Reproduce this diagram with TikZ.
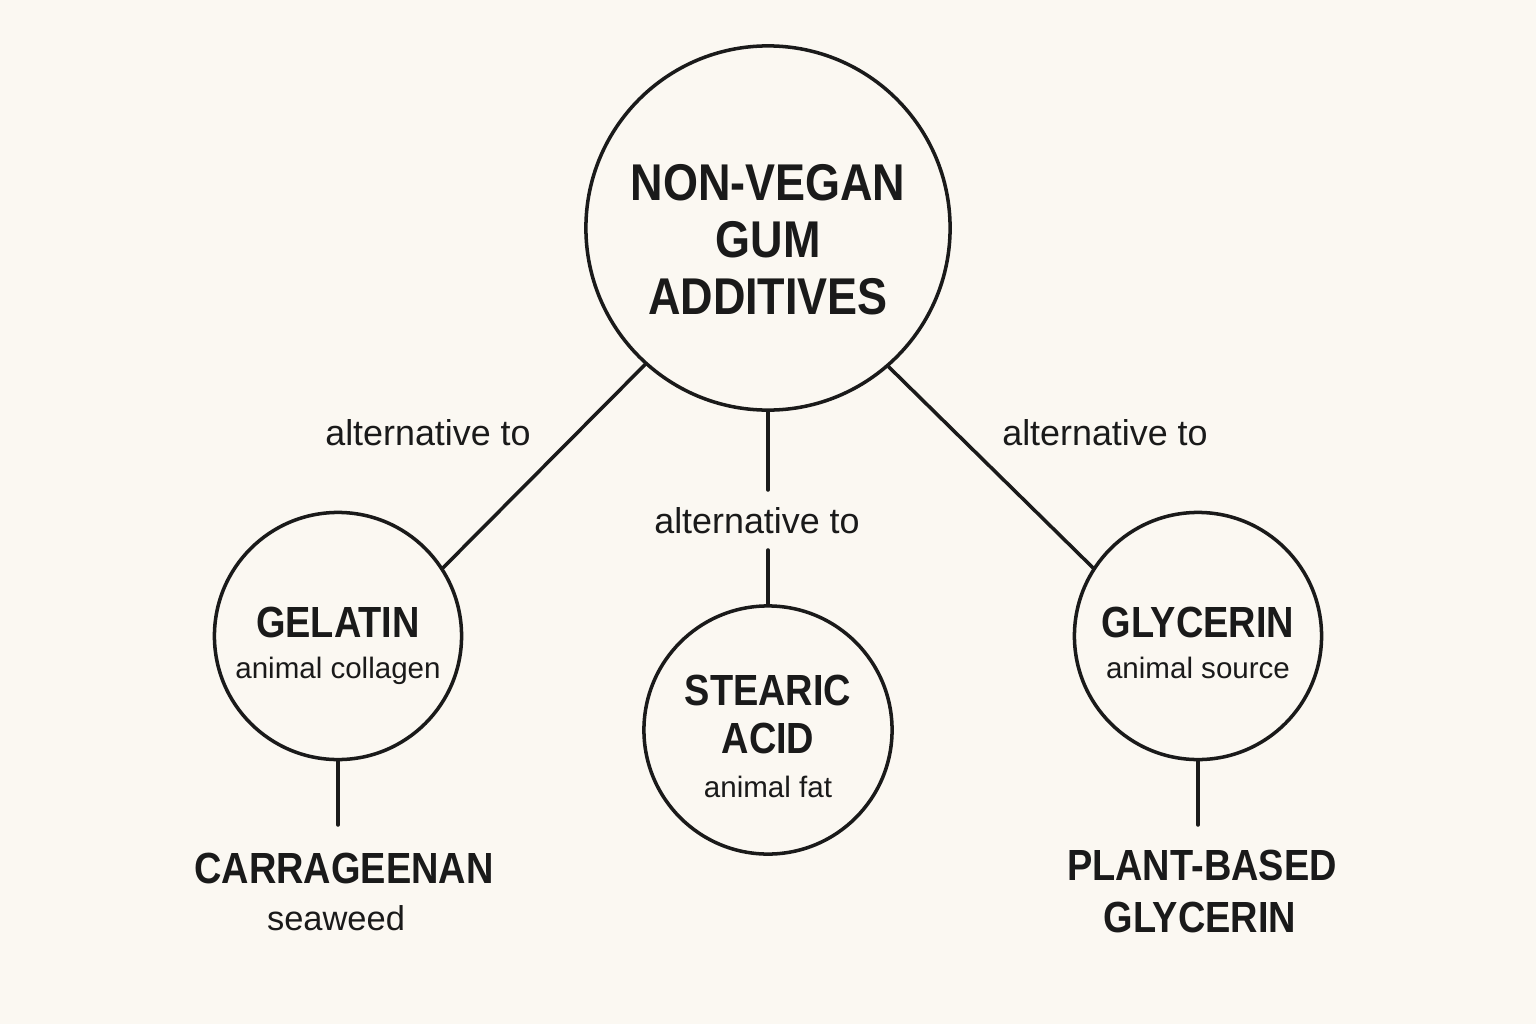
\documentclass[tikz,border=0pt]{standalone}
\usepackage{fontspec}
\setmainfont{Liberation Sans}
\newfontfamily\capsfont{Liberation Sans}[FakeStretch=0.87]
\definecolor{paper}{RGB}{251,248,242}
\definecolor{ink}{RGB}{26,26,26}
\begin{document}
\begin{tikzpicture}[x=0.01cm, y=-0.01cm, line join=round, line cap=round,
    bubble/.style={circle, draw=ink, line width=1pt, inner sep=0pt},
    link/.style={draw=ink, line width=1pt},
    head/.style={anchor=base, inner sep=0pt, text=ink, font=\capsfont\bfseries\fontsize{14.7}{16}\selectfont},
    item/.style={anchor=base, inner sep=0pt, text=ink, font=\capsfont\bfseries\fontsize{12.4}{14}\selectfont},
    sub/.style={anchor=base, inner sep=0pt, text=ink, font=\fontsize{8.4}{10}\selectfont},
    rel/.style={anchor=base, inner sep=0pt, text=ink, font=\fontsize{10.2}{12}\selectfont}]
    \fill[paper] (0,0) rectangle (1536,1024);
    \useasboundingbox (0,0) rectangle (1536,1024);
    % circles
    \node[bubble, minimum size=3.64cm] (top) at (768,228) {};
    \node[bubble, minimum size=2.47cm] (gel) at (338,636) {};
    \node[bubble, minimum size=2.48cm] (ste) at (768,730) {};
    \node[bubble, minimum size=2.47cm] (gly) at (1198,636) {};
    \path
    (768,490) coordinate (midA)
    (768,550) coordinate (midB)
    (338,825) coordinate (gelend)
    (1198,825) coordinate (glyend);
    % texts
    \foreach \n/\x/\y/\txt in {h1/768/200/NON-VEGAN, h2/768/257/GUM, h3/768/314/ADDITIVES}
    \node[head] (\n) at (\x,\y) {\txt};
    \foreach \n/\x/\y/\txt in {gel1/338/637/GELATIN, ste1/768/705/STEARIC, ste2/768/753/ACID, gly1/1198/637/GLYCERIN, carr/344/883/CARRAGEENAN, pb1/1202/880/PLANT-BASED, pb2/1200/932/GLYCERIN}
    \node[item] (\n) at (\x,\y) {\txt};
    \foreach \n/\x/\y/\txt in {gel2/338/678/animal collagen, ste3/768/797/animal fat, gly2/1198/678/animal source}
    \node[sub] (\n) at (\x,\y) {\txt};
    \node[sub, font=\fontsize{9.8}{11}\selectfont] (sea) at (336,930) {seaweed};
    \foreach \n/\x/\y in {altL/428/445, altR/1105/445, altM/757/533}
    \node[rel] (\n) at (\x,\y) {alternative to};
    % connectors
    \draw[link] (top.228.8) -- (gel.33);
    \draw[link] (top.311.2) -- (gly.147);
    \draw[link] (top.south) -- (midA) (midB) -- (ste.north);
    \draw[link] (gel.south) -- (gelend) (gly.south) -- (glyend);
\end{tikzpicture}
\end{document}
